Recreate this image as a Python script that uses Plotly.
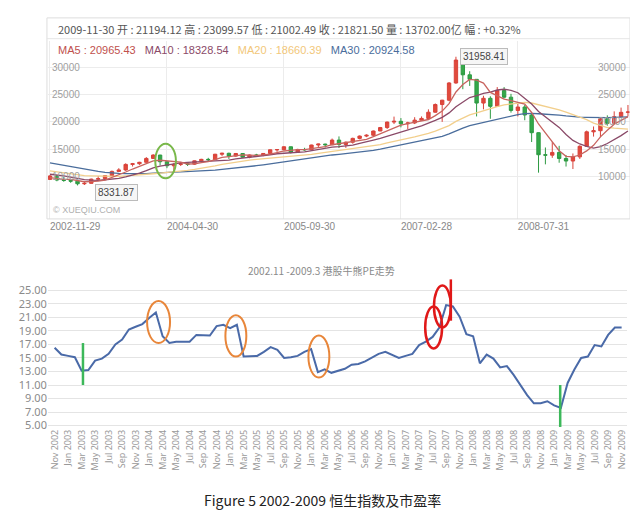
import pandas as pd
import plotly.graph_objects as go

# ---------------- data ----------------
# monthly Hang Seng candles, Nov 2002 .. Nov 2009 (month index 0..84)
closes = [10069, 9321,
          9258, 9122, 8634, 8717, 9487, 9577, 10134, 10908, 11170, 12190, 12317, 12576,
          13289, 13907, 12682, 11942, 12198, 12286, 12239, 12850, 13120, 13054, 14060, 14230,
          13721, 14195, 13516, 13908, 13868, 14201, 14880, 14903, 15429, 14386, 14937, 14876,
          15753, 15918, 15805, 16661, 15857, 16267, 16971, 17392, 17543, 18324, 18960, 19965,
          20106, 19652, 19801, 20318, 20635, 21773, 23185, 23984, 27142, 31352, 28643, 27813,
          23456, 24332, 22849, 25755, 24533, 22102, 22731, 21262, 18016, 13969, 13888, 14387,
          13278, 12812, 13576, 15520, 18171, 18379, 20573, 19724, 20955, 21752, 21821]
highs = [10251, 10190,
         9880, 9450, 9260, 9150, 9580, 10040, 10210, 11060, 11500, 12390, 12460, 12670,
         13530, 14060, 13950, 12790, 12460, 12650, 12440, 12900, 13220, 13400, 14130, 14340,
         14350, 14290, 14230, 14010, 14130, 14270, 14900, 15000, 15520, 15450, 15060, 15240,
         15800, 16000, 16000, 16940, 17330, 16400, 17100, 17500, 17710, 18400, 19070, 20050,
         20970, 20700, 20020, 20860, 21000, 22300, 23380, 24050, 27300, 31958, 31750, 29300,
         27850, 24800, 24700, 26390, 26390, 25150, 23300, 23100, 21640, 17950, 15300, 16280,
         15600, 13900, 14200, 15700, 18400, 19160, 20800, 21200, 21930, 22620, 23100]
lows = [9600, 9100,
        9000, 8820, 8332, 8409, 8700, 9350, 9560, 10060, 10800, 11000, 11800, 12100,
        12600, 13200, 12000, 11500, 10917, 11900, 11900, 12100, 12700, 12700, 13050, 13750,
        13200, 13600, 13400, 13320, 13600, 13700, 14200, 14500, 14800, 14200, 14400, 14700,
        14900, 15300, 15300, 15800, 15200, 15230, 16000, 16800, 17200, 17400, 18300, 18700,
        19600, 19000, 18660, 19600, 20300, 20700, 21700, 20000, 23800, 27000, 26000, 26600,
        21000, 22300, 20570, 22800, 24300, 21700, 21000, 20300, 16300, 10676, 12200, 13400,
        12500, 11800, 11345, 13200, 16100, 17300, 17200, 19300, 20100, 21000, 21000]
# closes before Nov 2002 (May 2000 .. Oct 2002), only used to warm up the moving averages
history = [14713, 16155, 16840, 17097, 15648, 14895, 14681, 15096,
           15893, 15181, 12761, 13386, 13174, 13043, 12316, 10768, 9951, 10073, 11279, 11397,
           10725, 10482, 11033, 11497, 11301, 10599, 10268, 10043, 9072, 9441]

price_ticks = [10000, 15000, 20000, 25000, 30000]
date_ticks = [0, 17, 34, 51, 68]
date_labels = ["2002-11-29", "2004-04-30", "2005-09-30", "2007-02-28", "2008-07-31"]

# monthly PE of the Hong Kong market, Nov 2002 .. Nov 2009
pe = [16.5, 15.5, 15.3, 15.1, 13.1, 13.2, 14.6, 14.9, 15.6, 17.0, 17.7, 19.2, 19.6, 20.0,
      20.9, 21.7, 18.2, 17.2, 17.4, 17.4, 17.4, 18.4, 18.4, 18.3, 19.7, 19.9, 19.4, 19.9,
      15.2, 15.2, 15.3, 15.9, 16.6, 16.2, 15.0, 15.1, 15.3, 15.9, 16.3, 12.9, 13.3, 12.8,
      13.1, 13.4, 14.0, 14.1, 14.5, 15.0, 15.6, 15.9, 15.5, 15.0, 15.3, 15.6, 16.9, 17.4,
      18.1, 19.5, 22.8, 22.6, 21.1, 18.5, 18.2, 14.2, 15.5, 14.9, 13.6, 13.8, 12.5, 11.0,
      9.5, 8.3, 8.3, 8.6, 8.0, 7.6, 11.3, 13.3, 15.0, 15.2, 16.9, 16.7, 18.4, 19.5, 19.5]
month_names = ["Jan", "Mar", "May", "Jul", "Sep", "Nov"]
pe_ticks = list(range(0, 85, 2))
pe_labels = ["Nov 2002"] + [f"{month_names[(k - 1) % 6]} {2003 + (k - 1) // 6}" for k in range(1, 43)]
pe_grid = [5, 7, 9, 11, 13, 15, 17, 19, 21, 23, 25]

# ---------------- derived ----------------
months = list(range(len(closes)))
opens = [history[-1]] + closes[:-1]
all_close = pd.Series(history + closes)
ma = {n: all_close.rolling(n).mean().iloc[len(history):].tolist() for n in (5, 10, 20, 30)}
ma_colors = {5: "#c8645f", 10: "#8a4a68", 20: "#f2cf8c", 30: "#4a6d9c"}

W, H = 638, 513
def px(v):  # horizontal pixel -> paper
    return v / W
def py(v):  # vertical pixel -> paper
    return 1 - v / H

fig = go.Figure()

# ---- top: candlestick ----
for n in (30, 20, 10, 5):
    fig.add_trace(go.Scatter(x=months, y=ma[n], mode="lines", line=dict(color=ma_colors[n], width=1.3),
                             hoverinfo="skip", showlegend=False, xaxis="x", yaxis="y"))
fig.add_trace(go.Candlestick(
    x=months, open=opens, high=highs, low=lows, close=closes,
    increasing=dict(line=dict(color="#d9423a", width=1), fillcolor="#e04a3c"),
    decreasing=dict(line=dict(color="#2e9a43", width=1), fillcolor="#35a84a"),
    whiskerwidth=0, showlegend=False, xaxis="x", yaxis="y"))

# ---- bottom: PE line ----
fig.add_trace(go.Scatter(x=months, y=pe, mode="lines", line=dict(color="#4a6aa8", width=2),
                         showlegend=False, xaxis="x2", yaxis="y2"))

top_y = [30000 + 27 / 27.5 * 5000, 30000 - 153 / 27.5 * 5000]
fig.update_layout(
    width=W, height=H, margin=dict(l=0, r=0, t=0, b=0),
    paper_bgcolor="white", plot_bgcolor="white",
    font=dict(family="Liberation Sans Narrow, Liberation Sans, sans-serif", color="#999"),
    xaxis=dict(domain=[px(40), px(623)], range=[-0.3, 84.3], tickvals=date_ticks, ticktext=date_labels,
               ticklabelposition="outside right", ticks="", showgrid=True, gridcolor="#ececec",
               zeroline=False, rangeslider=dict(visible=False), tickfont=dict(size=10, color="#888"),
               anchor="y"),
    yaxis=dict(domain=[py(213), py(33)], range=[top_y[1], top_y[0]], tickvals=price_ticks,
               showticklabels=False, showgrid=True, gridcolor="#ececec", zeroline=False, anchor="x"),
    xaxis2=dict(domain=[px(40), px(620)], range=[-0.99, 84.8], tickvals=pe_ticks, ticktext=pe_labels,
                tickangle=-90, ticks="", showgrid=False, zeroline=False,
                tickfont=dict(family="Liberation Sans Narrow, Noto Sans", size=9, color="#999"), anchor="y2"),
    yaxis2=dict(domain=[py(423.1), py(272.7)], range=[4.8, 26.8], tickvals=pe_grid, tickformat=".2f",
                showgrid=True, gridcolor="#e4e4e4", zeroline=False, ticks="",
                tickfont=dict(family="Noto Sans", size=11, color="#8a8a8a"), anchor="x2"),
)

shapes = [
    dict(type="rect", xref="paper", yref="paper", x0=px(39), x1=px(623), y0=py(213), y1=py(10),
         line=dict(color="#dddddd", width=1)),
    dict(type="line", xref="paper", yref="paper", x0=px(39), x1=px(623), y0=py(31), y1=py(31),
         line=dict(color="#e6e6e6", width=1)),
    # top chart green ellipse
    dict(type="circle", xref="x", yref="y", x0=15.3, x1=18.3, y0=9640, y1=16000,
         line=dict(color="#79b84a", width=2)),
    # bottom chart markers
    dict(type="line", xref="x2", yref="y2", x0=4.2, x1=4.2, y0=11.0, y1=17.2, line=dict(color="#3cb85a", width=2.5)),
    dict(type="line", xref="x2", yref="y2", x0=74.9, x1=74.9, y0=4.8, y1=11.0, line=dict(color="#3cb85a", width=2.5)),
    dict(type="circle", xref="x2", yref="y2", x0=13.7, x1=17.1, y0=17.2, y1=23.4, line=dict(color="#e8863a", width=2)),
    dict(type="circle", xref="x2", yref="y2", x0=25.3, x1=28.4, y0=15.2, y1=21.3, line=dict(color="#e8863a", width=2)),
    dict(type="circle", xref="x2", yref="y2", x0=37.6, x1=40.7, y0=12.1, y1=18.3, line=dict(color="#e8863a", width=2)),
    dict(type="circle", xref="x2", yref="y2", x0=54.9, x1=57.4, y0=16.4, y1=22.6, line=dict(color="#e01818", width=2.5)),
    dict(type="circle", xref="x2", yref="y2", x0=56.2, x1=58.7, y0=19.5, y1=25.7, line=dict(color="#e01818", width=2.5)),
    dict(type="line", xref="x2", yref="y2", x0=58.7, x1=58.7, y0=20.5, y1=26.6, line=dict(color="#e01818", width=2.5)),
]
fig.update_layout(shapes=shapes)

ann = []
ann.append(dict(xref="paper", yref="paper", x=px(48), y=py(21), xanchor="left", yanchor="middle", showarrow=False,
                text="2009-11-30 开 : 21194.12 高 : 23099.57 低 : 21002.49 收 : 21821.50 量 : 13702.00亿 幅 : +0.32%",
                font=dict(family="Liberation Sans Narrow, Noto Sans CJK SC", size=11, color="#555")))
ma_text = ("<span style='color:#c0504d'>MA5 : 20965.43</span>   "
           "<span style='color:#8a4a68'>MA10 : 18328.54</span>   "
           "<span style='color:#f2c77a'>MA20 : 18660.39</span>   "
           "<span style='color:#4a6d9c'>MA30 : 20924.58</span>")
ann.append(dict(xref="paper", yref="paper", x=px(48), y=py(42), xanchor="left", yanchor="middle", showarrow=False,
                text=ma_text, font=dict(family="Liberation Sans Narrow, Liberation Sans", size=11)))
for v in price_ticks:
    ann.append(dict(xref="paper", yref="y", x=px(42), y=v, xanchor="left", yanchor="middle", showarrow=False,
                    text=str(v), font=dict(size=10, color="#a0a0a0")))
    ann.append(dict(xref="paper", yref="y", x=px(621), y=v, xanchor="right", yanchor="middle", showarrow=False,
                    text=str(v), font=dict(size=10, color="#a0a0a0")))
ann.append(dict(xref="x", yref="y", x=59.6, y=31958, xanchor="left", yanchor="middle", showarrow=False,
                text="31958.41", bgcolor="#f6f6f6", bordercolor="#bbbbbb", borderwidth=1, borderpad=2,
                font=dict(size=10, color="#444")))
ann.append(dict(xref="x", yref="y", x=6.6, y=7090, xanchor="left", yanchor="middle", showarrow=False,
                text="8331.87", bgcolor="#f6f6f6", bordercolor="#bbbbbb", borderwidth=1, borderpad=2,
                font=dict(size=10, color="#444")))
ann.append(dict(xref="paper", yref="paper", x=px(43), y=py(204), xanchor="left", yanchor="middle", showarrow=False,
                text="© XUEQIU.COM", font=dict(size=9, color="#b0b0b0")))
ann.append(dict(xref="paper", yref="paper", x=px(314), y=py(265), xanchor="center", yanchor="middle", showarrow=False,
                text="2002.11 -2009.3 港股牛熊PE走势",
                font=dict(family="Noto Sans CJK SC", size=10, color="#8a8a8a")))
ann.append(dict(xref="paper", yref="paper", x=px(315), y=py(497), xanchor="center", yanchor="middle", showarrow=False,
                text="Figure 5 2002-2009 恒生指数及市盈率",
                font=dict(family="Noto Sans CJK SC", size=14, color="#222")))
fig.update_layout(annotations=ann)

fig.write_html("out.html")
